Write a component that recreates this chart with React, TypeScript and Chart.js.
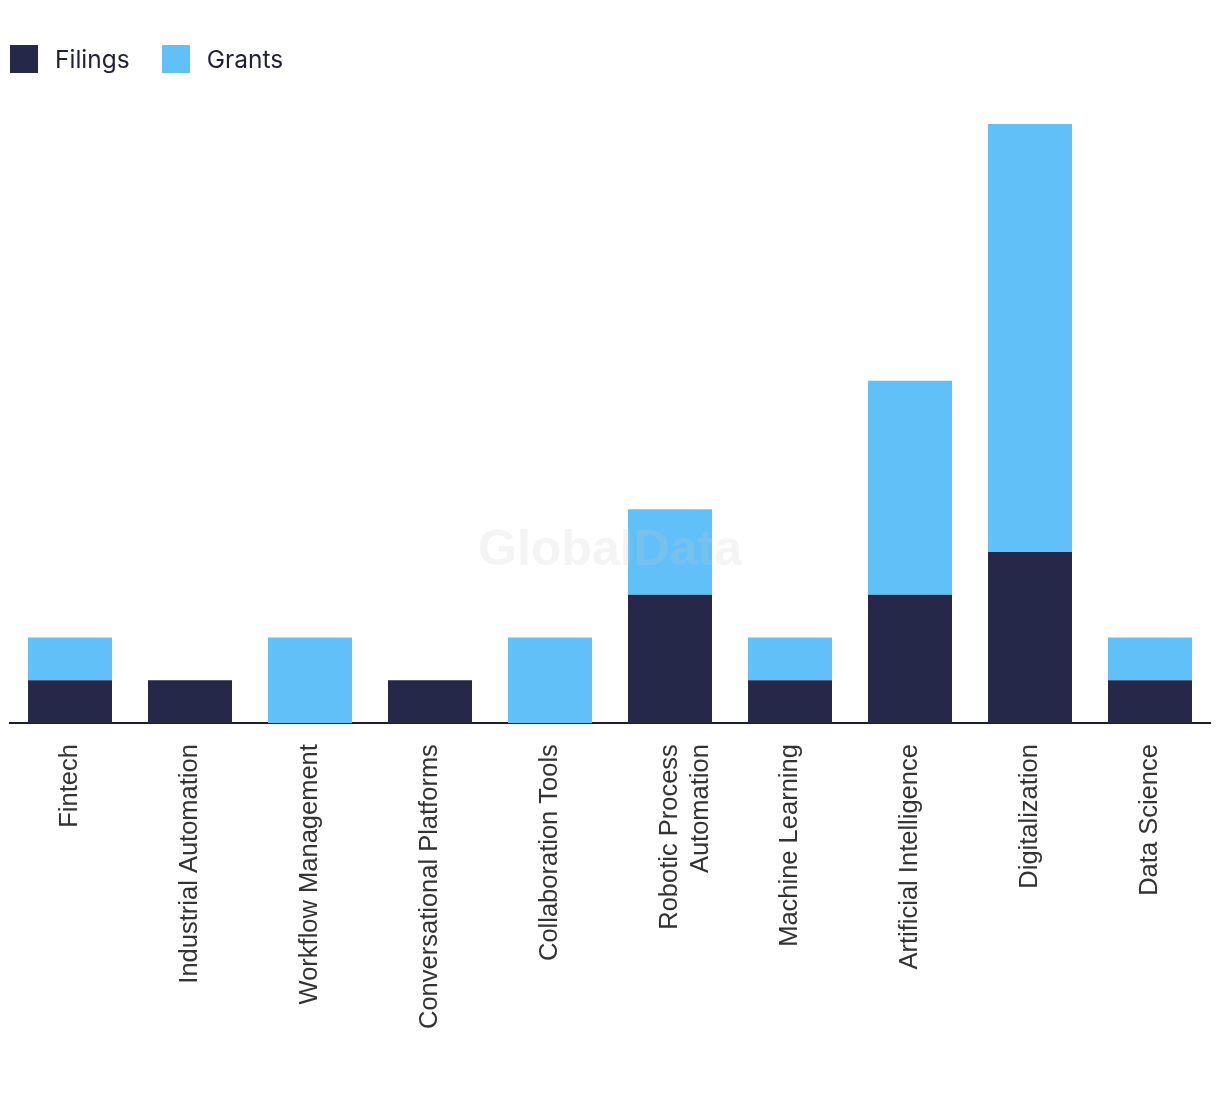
import React, { useEffect, useRef } from "react";
import { Chart, registerables } from "chart.js";

Chart.register(...registerables);

const categories: (string | string[])[] = [
  "Fintech",
  "Industrial Automation",
  "Workflow Management",
  "Conversational Platforms",
  "Collaboration Tools",
  ["Robotic Process", "Automation"],
  "Machine Learning",
  "Artificial Intelligence",
  "Digitalization",
  "Data Science",
];

const filings = [1, 1, 0, 1, 0, 3, 1, 3, 4, 1];
const grants = [1, 0, 2, 0, 2, 2, 1, 5, 10, 1];

const seriesNames = ["Filings", "Grants"];
const seriesColors = ["#262849", "#62c0f8"];

const watermarkPlugin = {
  id: "watermark",
  afterDatasetsDraw(chart: any) {
    const { ctx, chartArea } = chart;
    ctx.save();
    ctx.font = "bold 50px 'Liberation Sans', Arial, sans-serif";
    ctx.fillStyle = "rgba(200,200,200,0.2)";
    ctx.textAlign = "center";
    ctx.textBaseline = "alphabetic";
    const cx = (chartArea.left + chartArea.right) / 2;
    ctx.fillText("GlobalData", cx, 557);
    ctx.restore();
  },
};

export default function App() {
  const canvasRef = useRef<HTMLCanvasElement | null>(null);

  useEffect(() => {
    if (!canvasRef.current) return;
    const chart = new Chart(canvasRef.current, {
      type: "bar",
      data: {
        labels: categories,
        datasets: [
          {
            label: seriesNames[0],
            data: filings,
            backgroundColor: seriesColors[0],
            barPercentage: 0.7,
            categoryPercentage: 1,
          },
          {
            label: seriesNames[1],
            data: grants,
            backgroundColor: seriesColors[1],
            barPercentage: 0.7,
            categoryPercentage: 1,
          },
        ],
      },
      options: {
        animation: false,
        responsive: false,
        maintainAspectRatio: false,
        layout: { padding: { left: 2, right: 2, top: 116, bottom: 44 } },
        plugins: {
          legend: { display: false },
          tooltip: { enabled: false },
        },
        scales: {
          x: {
            stacked: true,
            grid: { display: false },
            border: { display: true, color: "#1c1d33", width: 2 },
            ticks: {
              autoSkip: false,
              maxRotation: 90,
              minRotation: 90,
              padding: 13,
              color: "#333333",
              font: { family: "'Liberation Sans', Arial, sans-serif", size: 25.5 },
            },
          },
          y: {
            stacked: true,
            display: false,
            min: 0,
            max: 14,
          },
        },
      },
      plugins: [watermarkPlugin],
    });
    return () => chart.destroy();
  }, []);

  const legendItem = (i: number, marginRight: number) => (
    <div style={{ display: "flex", alignItems: "center", marginRight }}>
      <div style={{ width: 28, height: 28, background: seriesColors[i], marginRight: 17 }} />
      <span
        style={{
          fontFamily: "Inter, 'Noto Sans', sans-serif",
          fontSize: 24.5,
          color: "#1f2036",
          lineHeight: "28px",
        }}
      >
        {seriesNames[i]}
      </span>
    </div>
  );

  return (
    <div style={{ position: "relative", width: 1204, height: 1078 }}>
      <canvas ref={canvasRef} width={1204} height={1078} style={{ display: "block" }} />
      <div style={{ position: "absolute", left: 2, top: 37, display: "flex" }}>
        {legendItem(0, 32)}
        {legendItem(1, 0)}
      </div>
    </div>
  );
}
